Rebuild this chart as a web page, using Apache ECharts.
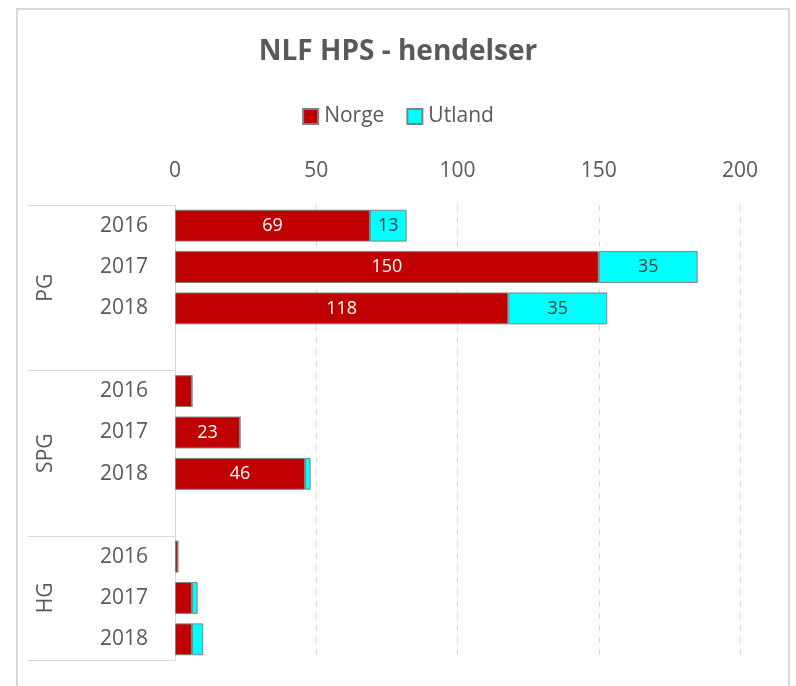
<!DOCTYPE html>
<html>
<head>
<meta charset="utf-8">
<script src="https://cdn.jsdelivr.net/npm/echarts@6/dist/echarts.min.js"></script>
<style>
html,body{margin:0;padding:0;background:#fff;}
#c{width:796px;height:686px;}
</style>
</head>
<body>
<div id="c"></div>
<script>
var titleText = 'NLF HPS - hendelser';
var seriesNames = ['Norge', 'Utland'];
var yearLabels = ['2016', '2017', '2018', '', '2016', '2017', '2018', '', '2016', '2017', '2018'];
var groupNames = ['PG', 'SPG', 'HG'];
var groupStart = [0, 4, 8];
var groupEnd = [3, 7, 10];
var norge = [69, 150, 118, null, 6, 23, 46, null, 1, 6, 6];
var utland = [13, 35, 35, null, 0, 0, 2, null, 0, 2, 4];
var xTicks = [0, 50, 100, 150, 200];

var FONT = '"Open Sans", "Noto Sans", sans-serif';
var chart = echarts.init(document.getElementById('c'));

var labelFmt = function (p) { return (p.value != null && p.value >= 10) ? String(p.value) : ''; };

var option = {
  backgroundColor: '#fff',
  animation: false,
  title: {
    text: titleText,
    left: 'center',
    top: 33,
    textStyle: { fontFamily: FONT, fontSize: 28, fontWeight: 'bold', color: '#595959' }
  },
  legend: {
    data: seriesNames,
    top: 101,
    left: 'center',
    itemWidth: 15,
    itemHeight: 15,
    itemGap: 22,
    icon: 'rect',
    textStyle: { fontFamily: FONT, fontSize: 21, color: '#595959', padding: [0, 0, 0, 1] }
  },
  grid: { left: 175, right: 56, top: 205, bottom: 26, containLabel: false },
  xAxis: {
    type: 'value',
    position: 'top',
    min: xTicks[0],
    max: xTicks[xTicks.length - 1],
    interval: 50,
    axisLine: { show: false },
    axisTick: { show: false },
    axisLabel: { fontFamily: FONT, fontSize: 21, color: '#595959', margin: 23 },
    splitLine: { show: true, lineStyle: { color: '#d9d9d9', type: [6, 6], width: 1 } }
  },
  yAxis: {
    type: 'category',
    inverse: true,
    data: yearLabels,
    axisLine: { show: true, lineStyle: { color: '#d9d9d9', width: 1 } },
    axisTick: { show: false },
    axisLabel: { fontFamily: FONT, fontSize: 21, color: '#595959', margin: 27, padding: [3, 0, 0, 0] },
    splitLine: { show: false }
  },
  series: [
    {
      name: seriesNames[0],
      type: 'bar',
      stack: 'a',
      data: norge,
      barWidth: '77%',
      itemStyle: { color: '#C00000', borderColor: '#808080', borderWidth: 1 },
      label: { show: true, position: 'inside', color: '#ffffff', fontFamily: FONT, fontSize: 18, formatter: labelFmt }
    },
    {
      name: seriesNames[1],
      type: 'bar',
      stack: 'a',
      data: utland,
      barWidth: '77%',
      itemStyle: { color: '#00FFFF', borderColor: '#808080', borderWidth: 1 },
      label: { show: true, position: 'inside', color: '#404040', fontFamily: FONT, fontSize: 18, formatter: labelFmt }
    }
  ]
};
chart.setOption(option);

// Frame, group separators and rotated group labels placed through the axis scale
var c0 = chart.convertToPixel({ yAxisIndex: 0 }, 0);
var c1 = chart.convertToPixel({ yAxisIndex: 0 }, 1);
var band = c1 - c0;
var axisX = chart.convertToPixel({ xAxisIndex: 0 }, 0);
var lineColor = '#d9d9d9';
var gfx = [];
gfx.push({ type: 'rect', shape: { x: 17, y: 9, width: 772, height: 690 }, style: { fill: null, stroke: lineColor, lineWidth: 2 }, silent: true });
var bounds = [groupStart[0] - 0.5];
for (var g = 0; g < groupNames.length; g++) bounds.push(groupEnd[g] + 0.5);
bounds.forEach(function (b) {
  var y = Math.round(c0 + b * band) + 0.5;
  gfx.push({ type: 'line', shape: { x1: 28, y1: y, x2: axisX, y2: y }, style: { stroke: lineColor, lineWidth: 1 }, silent: true });
});
for (var g = 0; g < groupNames.length; g++) {
  var mid = c0 + ((groupStart[g] - 0.5) + (groupEnd[g] + 0.5)) / 2 * band;
  gfx.push({
    type: 'text', x: 46, y: mid, rotation: Math.PI / 2,
    style: { text: groupNames[g], fill: '#595959', font: '21px ' + FONT, align: 'center', verticalAlign: 'middle' },
    silent: true
  });
}
chart.setOption({ graphic: gfx });
</script>
</body>
</html>
